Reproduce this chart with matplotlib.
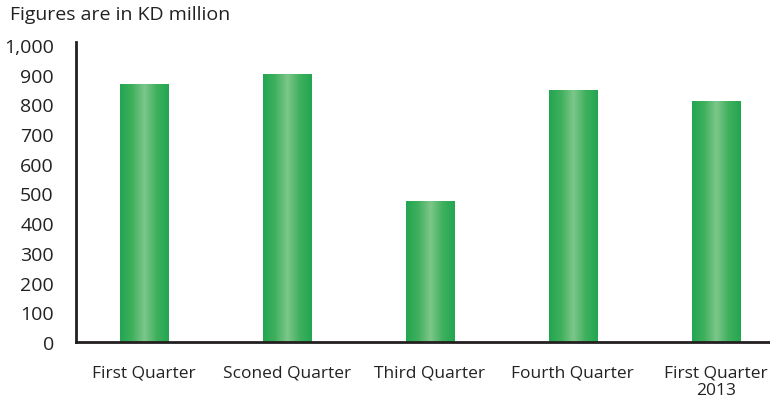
import numpy as np
import matplotlib
matplotlib.use("Agg")
import matplotlib.pyplot as plt
from matplotlib.colors import LinearSegmentedColormap

categorias = ["First Quarter", "Sconed Quarter", "Third Quarter", "Fourth Quarter", "First Quarter\n2013"]
valores = [870, 902, 476, 848, 810]
ticks_y = [0, 100, 200, 300, 400, 500, 600, 700, 800, 900, 1000]
rotulos_y = ["0", "100", "200", "300", "400", "500", "600", "700", "800", "900", "1,000"]

plt.rcParams["font.family"] = ["Open Sans", "DejaVu Sans"]

fig = plt.figure(figsize=(7.7, 4.02), dpi=100)
ax = fig.add_axes([0.0987, 0.147, 0.9013, 0.746])

x = np.arange(len(categorias))
barras = ax.bar(x, valores, width=0.336, color="none", edgecolor="none")

# gradiente horizontal: escuro nas bordas, claro no meio
grad = LinearSegmentedColormap.from_list("verde", ["#22a651", "#3fb05d", "#7dc68a", "#3fb05d", "#22a651"])
g = np.linspace(0, 1, 256).reshape(1, -1)
for b in barras:
    x0, y0 = b.get_x(), b.get_y()
    im = ax.imshow(g, cmap=grad, aspect="auto", extent=[x0, x0 + b.get_width(), y0, y0 + b.get_height()], zorder=2)
    im.set_clip_path(b)

ax.set_xlim(-0.475, 4.38)
ax.set_ylim(0, 1010)
ax.set_yticks(ticks_y)
ax.set_yticklabels(rotulos_y, fontsize=14, color="#222222")
ax.set_xticks(x)
ax.set_xticklabels(categorias, fontsize=12.5, color="#222222", linespacing=1.15)
ax.tick_params(axis="both", length=0)
ax.tick_params(axis="y", pad=16)
ax.tick_params(axis="x", pad=16)

for lado in ["top", "right"]:
    ax.spines[lado].set_visible(False)
for lado in ["left", "bottom"]:
    ax.spines[lado].set_linewidth(2)
    ax.spines[lado].set_color("#231f20")

fig.text(0.013, 0.962, "Figures are in KD million", fontsize=14, color="#222222", va="center")

fig.savefig("out.png", dpi=100)
